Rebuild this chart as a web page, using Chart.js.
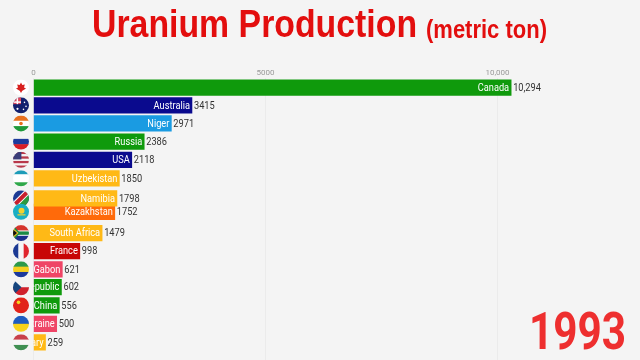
<!DOCTYPE html>
<html>
<head>
<meta charset="utf-8">
<title>Uranium Production</title>
<script src="https://cdn.jsdelivr.net/npm/chart.js@4/dist/chart.umd.min.js"></script>
<style>
    html, body { margin: 0; padding: 0; width: 640px; height: 360px; overflow: hidden; background: #f4f4f4; }
    #wrap { position: relative; width: 640px; height: 360px; }
    .title { position: absolute; color: #e30e0e; white-space: nowrap; transform-origin: left top;
             font-family: "Liberation Sans", Arial, sans-serif; font-weight: bold; }
    #title1 { left: 92px; top: 2px; font-size: 38px; line-height: 44px; transform: scaleX(0.89); }
    #title2 { left: 426px; top: 14px; font-size: 25px; line-height: 30px; transform: scaleX(0.88); }
    #year { position: absolute; right: 14px; top: 302px; color: #ee2f2f; transform-origin: right top; transform: scaleX(0.83);
            font: bold 51px Roboto, sans-serif; line-height: 60px; }
</style>
</head>
<body>
<div id="wrap">
    <canvas id="chart" width="640" height="360"></canvas>
    <div class="title" id="title1">Uranium Production</div>
    <div class="title" id="title2">(metric ton)</div>
    <div id="year">1993</div>
</div>
<script>
// Namibia comes after Kazakhstan so its bar ends up on top, like in the video frame
const countries = ["Canada", "Australia", "Niger", "Russia", "USA", "Uzbekistan", "Kazakhstan", "Namibia", "South Africa", "France", "Gabon", "Czech Republic", "China", "Ukraine", "Hungary"];
const production = [10294, 3415, 2971, 2386, 2118, 1850, 1752, 1798, 1479, 998, 621, 602, 556, 500, 259];
// rank position of each bar, mid transition so not evenly spaced
const ranks = [0.53, 1.51, 2.51, 3.51, 4.52, 5.54, 7.39, 6.65, 8.57, 9.56, 10.57, 11.56, 12.56, 13.58, 14.6];
const valueLabels = ["10,294", "3415", "2971", "2386", "2118", "1850", "1752", "1798", "1479", "998", "621", "602", "556", "500", "259"];
const barColors = ["#0f9a0c", "#0a0a8e", "#1a9be2", "#0f9a0c", "#0a0a8e", "#ffb916", "#ff6a0a", "#ffb916", "#ffb916", "#c80606", "#ef4566", "#0f9a0c", "#0f9a0c", "#ef4566", "#ffb916"];
const xTicks = [0, 5000, 10000];
const xTickLabels = ["0", "5000", "10,000"];

function stripes(ctx, r, cols) {
    const h = 2 * r / cols.length;
    cols.forEach((c, i) => { ctx.fillStyle = c; ctx.fillRect(-r, -r + i * h, 2 * r, h + 0.5); });
}
function vstripes(ctx, r, cols) {
    const w = 2 * r / cols.length;
    cols.forEach((c, i) => { ctx.fillStyle = c; ctx.fillRect(-r + i * w, -r, w + 0.5, 2 * r); });
}
function dot(ctx, x, y, r, c) {
    ctx.fillStyle = c;
    ctx.beginPath();
    ctx.arc(x, y, r, 0, Math.PI * 2);
    ctx.fill();
}

const flags = {
    "Canada": (ctx, r) => {
        stripes(ctx, r, ["#fff"]);
        ctx.fillStyle = "#d8201f";
        ctx.beginPath();
        [[0, -5], [1.3, -2.6], [3.8, -3.2], [3, 0], [5, 0.8], [1, 3.4], [0.5, 5], [-0.5, 5], [-1, 3.4], [-5, 0.8], [-3, 0], [-3.8, -3.2], [-1.3, -2.6]]
            .forEach((p, i) => i ? ctx.lineTo(p[0], p[1]) : ctx.moveTo(p[0], p[1]));
        ctx.fill();
    },
    "Australia": (ctx, r) => {
        stripes(ctx, r, ["#12206e"]);
        ctx.fillStyle = "#d9455a";
        ctx.fillRect(-r, -r, r, r * 0.85);
        ctx.fillStyle = "#fff";
        ctx.fillRect(-r, -r * 0.5, r, 1.5);
        ctx.fillRect(-r * 0.55, -r, 1.5, r * 0.85);
        dot(ctx, 3.5, -3, 0.8, "#fff");
        dot(ctx, 5, 1, 0.8, "#fff");
        dot(ctx, 2.5, 4, 0.8, "#fff");
        dot(ctx, -3.5, 3.5, 1.1, "#fff");
    },
    "Niger": (ctx, r) => { stripes(ctx, r, ["#e8701e", "#fff", "#1f9a3a"]); dot(ctx, 0, 0, 1.8, "#e8701e"); },
    "Russia": (ctx, r) => stripes(ctx, r, ["#f4f4f4", "#1c3a9c", "#d81e26"]),
    "USA": (ctx, r) => {
        stripes(ctx, r, ["#b8384a", "#f4f4f4", "#b8384a", "#f4f4f4", "#b8384a", "#f4f4f4", "#b8384a"]);
        ctx.fillStyle = "#3a3d78";
        ctx.fillRect(-r, -r, r * 1.05, r * 0.95);
    },
    "Uzbekistan": (ctx, r) => stripes(ctx, r, ["#1d9cb8", "#fff", "#fff", "#2fa84a"]),
    "Namibia": (ctx, r) => {
        stripes(ctx, r, ["#1c3a94"]);
        ctx.fillStyle = "#2b9a3e";
        ctx.beginPath();
        ctx.moveTo(r, -r); ctx.lineTo(r, r); ctx.lineTo(-r, r);
        ctx.fill();
        ctx.strokeStyle = "#fff";
        ctx.lineWidth = 6;
        ctx.beginPath(); ctx.moveTo(-r, r); ctx.lineTo(r, -r); ctx.stroke();
        ctx.strokeStyle = "#c8202e";
        ctx.lineWidth = 4;
        ctx.beginPath(); ctx.moveTo(-r, r); ctx.lineTo(r, -r); ctx.stroke();
    },
    "Kazakhstan": (ctx, r) => {
        stripes(ctx, r, ["#19aec4"]);
        dot(ctx, 0.5, -1, 3, "#f2d22e");
        ctx.fillStyle = "#f2d22e";
        ctx.fillRect(-3.5, 2.5, 8, 1.2);
    },
    "South Africa": (ctx, r) => {
        stripes(ctx, r, ["#d5342c", "#fff", "#1c2f8c"]);
        ctx.fillStyle = "#1d8a46";
        ctx.fillRect(-r, -1.7, 2 * r, 3.4);
        ctx.beginPath();
        ctx.moveTo(-r, -r); ctx.lineTo(-1, 0); ctx.lineTo(-r, r);
        ctx.fill();
        ctx.fillStyle = "#f4c01e";
        ctx.beginPath();
        ctx.moveTo(-r, -5); ctx.lineTo(-2.5, 0); ctx.lineTo(-r, 5);
        ctx.fill();
        ctx.fillStyle = "#111";
        ctx.beginPath();
        ctx.moveTo(-r, -3.5); ctx.lineTo(-4, 0); ctx.lineTo(-r, 3.5);
        ctx.fill();
    },
    "France": (ctx, r) => vstripes(ctx, r, ["#1c3a94", "#f6f6f6", "#e0262e"]),
    "Gabon": (ctx, r) => stripes(ctx, r, ["#2c9a4a", "#f4cf20", "#1c3a9c"]),
    "Czech Republic": (ctx, r) => {
        stripes(ctx, r, ["#f2f2f2", "#d0202c"]);
        ctx.fillStyle = "#16457e";
        ctx.beginPath();
        ctx.moveTo(-r, -r); ctx.lineTo(0.5, 0); ctx.lineTo(-r, r);
        ctx.fill();
    },
    "China": (ctx, r) => { stripes(ctx, r, ["#e2231a"]); dot(ctx, -2.5, -3, 1.8, "#f5d51e"); },
    "Ukraine": (ctx, r) => stripes(ctx, r, ["#1f5cc0", "#f8d21a"]),
    "Hungary": (ctx, r) => stripes(ctx, r, ["#c8404a", "#f6f6f6", "#3f8f52"])
};

// the video font is a condensed Roboto, squeeze it
const textSqueeze = 0.84;
function squeezedText(ctx, txt, x, y) {
    ctx.save();
    ctx.translate(x, y);
    ctx.scale(textSqueeze, 1);
    ctx.fillText(txt, 0, 0);
    ctx.restore();
}

// flags and labels are not part of the bars themselves so they go in a plugin
const barLabels = {
    id: "barLabels",
    afterDatasetsDraw(chart) {
        const ctx = chart.ctx;
        const bars = chart.getDatasetMeta(0).data;
        const x0 = chart.scales.x.getPixelForValue(0);
        ctx.save();
        ctx.font = "11px Roboto";
        ctx.textBaseline = "middle";
        bars.forEach((bar, i) => {
            // name stays inside the bar, narrow bars cut it off on the left
            ctx.save();
            ctx.beginPath();
            ctx.rect(x0, bar.y - 8, bar.x - x0, 16);
            ctx.clip();
            ctx.fillStyle = "#fff";
            ctx.textAlign = "right";
            squeezedText(ctx, countries[i], bar.x - 2, bar.y + 0.5);
            ctx.restore();
            ctx.fillStyle = "#333";
            ctx.textAlign = "left";
            squeezedText(ctx, valueLabels[i], bar.x + 2, bar.y + 0.5);
        });
        // Kazakhstan flag sits over the Namibia one, so draw by rank order
        const order = bars.map((b, i) => i).sort((a, b) => ranks[a] - ranks[b]);
        order.forEach(i => {
            const r = 8;
            ctx.save();
            ctx.translate(21, bars[i].y);
            ctx.beginPath();
            ctx.arc(0, 0, r, 0, Math.PI * 2);
            ctx.clip();
            flags[countries[i]](ctx, r);
            ctx.restore();
        });
        ctx.restore();
    }
};

new Chart(document.getElementById("chart"), {
    type: "bar",
    data: {
        datasets: [{
            data: countries.map((c, i) => ({ x: production[i], y: ranks[i] })),
            backgroundColor: barColors,
            barThickness: 15.6,
            borderWidth: 0
        }]
    },
    plugins: [barLabels],
    options: {
        indexAxis: "y",
        responsive: false,
        animation: false,
        layout: { padding: { left: 33.5, right: 0, top: 0, bottom: 0 } },
        plugins: { legend: { display: false }, tooltip: { enabled: false } },
        scales: {
            x: {
                position: "top",
                min: 0,
                max: 13071,
                afterBuildTicks: axis => { axis.ticks = xTicks.map(v => ({ value: v })); },
                afterFit: axis => { axis.height = 78; },
                grid: { color: "#ebebeb", drawTicks: false },
                border: { display: false },
                ticks: {
                    padding: 0,
                    maxRotation: 0,
                    color: "#999",
                    font: { family: "Roboto", size: 8 },
                    callback: v => xTickLabels[xTicks.indexOf(v)]
                }
            },
            y: {
                type: "linear",
                display: false,
                reverse: true,
                offset: false,
                grid: { offset: false },
                min: 0,
                max: 15.58
            }
        }
    }
});
</script>
</body>
</html>
